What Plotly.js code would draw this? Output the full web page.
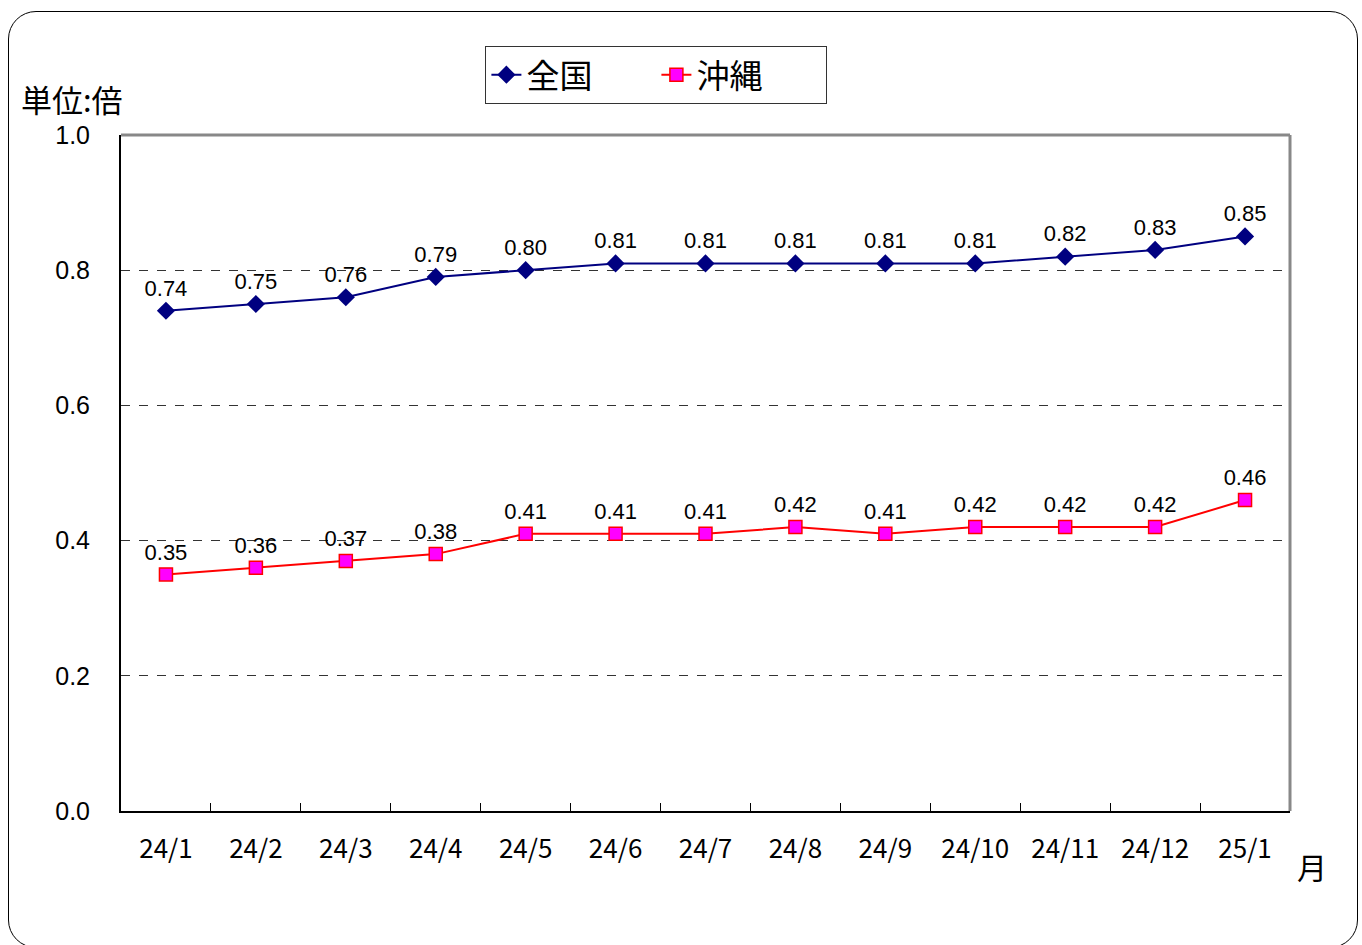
<!DOCTYPE html>
<html><head><meta charset="utf-8">
<script src="https://cdn.plot.ly/plotly-3.0.1.min.js"></script>
<style>
html,body{margin:0;padding:0;background:#fff;overflow:hidden;}
#frame{position:absolute;left:8px;top:11px;width:1350px;height:937px;border:1.5px solid #000;border-radius:28px;box-sizing:border-box;}
#chart{position:absolute;left:0;top:0;width:1362px;height:945px;}
</style></head>
<body>
<div id="frame"></div>
<div id="chart"></div>
<script>
const months = ["24/1","24/2","24/3","24/4","24/5","24/6","24/7","24/8","24/9","24/10","24/11","24/12","25/1"];
const zenkoku = [0.74,0.75,0.76,0.79,0.80,0.81,0.81,0.81,0.81,0.81,0.82,0.83,0.85];
const okinawa = [0.35,0.36,0.37,0.38,0.41,0.41,0.41,0.42,0.41,0.42,0.42,0.42,0.46];
const yTicks = [0,0.2,0.4,0.6,0.8,1.0];
const yTickText = ["0.0","0.2","0.4","0.6","0.8","1.0"];

const labelFont = {family:"Liberation Sans, Arial, sans-serif", size:22, color:"#000"};
const traces = [
  {x:months, y:zenkoku, name:"全国", type:"scatter", mode:"lines+markers+text",
   line:{color:"#000080", width:2}, marker:{symbol:"diamond", size:14, color:"#000080"},
   text:zenkoku.map(v=>v.toFixed(2)), textposition:"top center", textfont:labelFont, cliponaxis:false},
  {x:months, y:okinawa, name:"沖縄", type:"scatter", mode:"lines+markers+text",
   line:{color:"#FF0000", width:2}, marker:{symbol:"square", size:13, color:"#FF00FF", line:{color:"#FF0000", width:1.5}},
   text:okinawa.map(v=>v.toFixed(2)), textposition:"top center", textfont:labelFont, cliponaxis:false}
];
const layout = {
  width:1362, height:945,
  margin:{l:121, r:72, t:135, b:134},
  paper_bgcolor:"rgba(0,0,0,0)", plot_bgcolor:"#fff",
  showlegend:true,
  legend:{orientation:"h", x:0.458, xanchor:"center", y:1.132, yanchor:"top",
    bgcolor:"#fff", bordercolor:"#333", borderwidth:1,
    font:{family:"Noto Sans CJK JP, sans-serif", size:33, color:"#000"},
    entrywidth:125, valign:"middle"},
  xaxis:{type:"category", range:[-0.5,12.5], showline:true, linecolor:"#000", linewidth:2,
    ticks:"inside", tickson:"boundaries", ticklen:8, tickcolor:"#000", tickwidth:1,
    showgrid:false, zeroline:false, ticklabelstandoff:14,
    tickfont:{family:"Noto Sans CJK JP, sans-serif", size:26, color:"#000"}},
  yaxis:{range:[0,1.0], tickvals:yTicks, ticktext:yTickText, showline:true, linecolor:"#000", linewidth:2,
    ticks:"", showgrid:true, gridcolor:"#333", griddash:"dash", gridwidth:1, zeroline:false,
    tickfont:{family:"Liberation Sans, Arial, sans-serif", size:25, color:"#000"}, ticklabelstandoff:24},
  shapes:[
    {type:"line", xref:"paper", yref:"paper", x0:0, x1:1, y0:1, y1:1, line:{color:"#888", width:3}},
    {type:"line", xref:"paper", yref:"paper", x0:1, x1:1, y0:0, y1:1, line:{color:"#888", width:3}}
  ],
  annotations:[
    {text:"単位:倍", xref:"paper", yref:"paper", x:-0.087, y:1.054, xanchor:"left", yanchor:"middle", showarrow:false,
     font:{family:"Noto Sans CJK JP, sans-serif", size:31, color:"#000"}},
    {text:"月", xref:"paper", yref:"paper", x:1.004, y:-0.081, xanchor:"left", yanchor:"middle", showarrow:false,
     font:{family:"Noto Sans CJK JP, sans-serif", size:30, color:"#000"}}
  ]
};
Plotly.newPlot("chart", traces, layout, {displayModeBar:false, staticPlot:true});
</script>
</body></html>
